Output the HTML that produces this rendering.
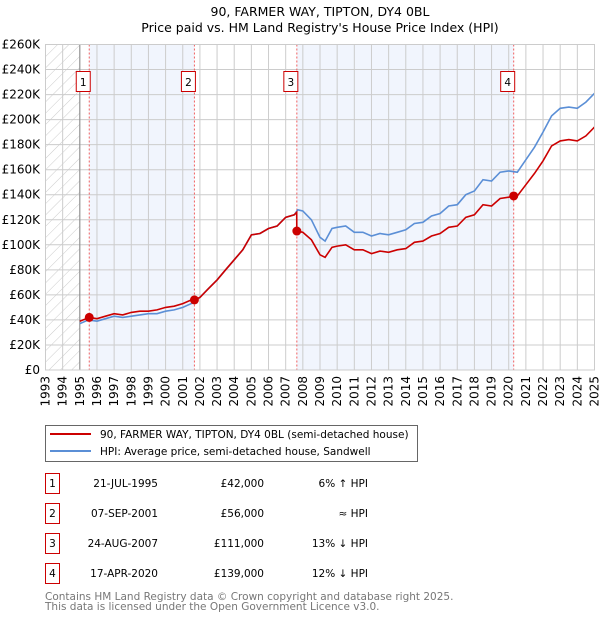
<!DOCTYPE html>
<html><head><meta charset="utf-8"><style>
body{margin:0;background:#fff}
svg{display:block;font-family:"DejaVu Sans","Liberation Sans",sans-serif}
</style></head><body>
<svg id="chart" width="600" height="620" viewBox="0 0 600 620">
<defs><pattern id="hatch" width="8" height="8" patternUnits="userSpaceOnUse" patternTransform="rotate(45)"><line x1="0" y1="0" x2="0" y2="8" stroke="#ccc" stroke-width="1"/></pattern></defs>
<text x="320" y="16" text-anchor="middle" font-size="12.5" fill="#000">90, FARMER WAY, TIPTON, DY4 0BL</text>
<text x="320" y="32" text-anchor="middle" font-size="12.5" fill="#000">Price paid vs. HM Land Registry's House Price Index (HPI)</text>
<g id="plot"></g>
<g>
<rect x="45.5" y="425.5" width="372" height="36" fill="#fff" stroke="#666"/>
<line x1="50" y1="434" x2="91" y2="434" stroke="#cc0000" stroke-width="2"/>
<text x="100" y="438" font-size="10.5">90, FARMER WAY, TIPTON, DY4 0BL (semi-detached house)</text>
<line x1="50" y1="451" x2="91" y2="451" stroke="#5b8fd6" stroke-width="2"/>
<text x="100" y="455" font-size="10.5">HPI: Average price, semi-detached house, Sandwell</text>
</g>
<g id="table" font-size="10.5"></g>
<text x="45" y="600" font-size="10.5" fill="#777">Contains HM Land Registry data © Crown copyright and database right 2025.</text>
<text x="45" y="610" font-size="10.5" fill="#777">This data is licensed under the Open Government Licence v3.0.</text>
</svg>
<script>
const hpiYears=[1995,1995.5,1996,1996.5,1997,1997.5,1998,1998.5,1999,1999.5,2000,2000.5,2001,2001.5,2002,2002.5,2003,2003.5,2004,2004.5,2005,2005.5,2006,2006.5,2007,2007.5,2007.7,2008,2008.5,2009,2009.3,2009.7,2010,2010.5,2011,2011.5,2012,2012.5,2013,2013.5,2014,2014.5,2015,2015.5,2016,2016.5,2017,2017.5,2018,2018.5,2019,2019.5,2020,2020.5,2021,2021.5,2022,2022.5,2023,2023.5,2024,2024.5,2025];
const hpiValues=[37,40,39,41,43,42,43,44,45,45,47,48,50,53,58,65,72,80,88,96,108,109,113,115,122,124,128,127,120,106,103,113,114,115,110,110,107,109,108,110,112,117,118,123,125,131,132,140,143,152,151,158,159,158,168,178,190,203,209,210,209,214,221];
const priceYears=[1995,1995.55,1996,1996.5,1997,1997.5,1998,1998.5,1999,1999.5,2000,2000.5,2001,2001.5,2001.68,2002,2002.5,2003,2003.5,2004,2004.5,2005,2005.5,2006,2006.5,2007,2007.5,2007.64,2007.65,2008,2008.5,2009,2009.3,2009.7,2010,2010.5,2011,2011.5,2012,2012.5,2013,2013.5,2014,2014.5,2015,2015.5,2016,2016.5,2017,2017.5,2018,2018.5,2019,2019.5,2020,2020.29,2020.5,2021,2021.5,2022,2022.5,2023,2023.5,2024,2024.5,2025];
const priceValues=[39,42,41,43,45,44,46,47,47,48,50,51,53,56,56,58,65,72,80,88,96,108,109,113,115,122,124,126,111,110,104,92,90,98,99,100,96,96,93,95,94,96,97,102,103,107,109,114,115,122,124,132,131,137,138,139,139,148,157,167,179,183,184,183,187,194];
const salesYears=[1995.55,2001.68,2007.65,2020.29];
const salesValues=[42,56,111,139];
const salesLabels=["1","2","3","4"];
const salesDates=["21-JUL-1995","07-SEP-2001","24-AUG-2007","17-APR-2020"];
const salesPrices=["£42,000","£56,000","£111,000","£139,000"];
const salesDeltas=["6% ↑ HPI","≈ HPI","13% ↓ HPI","12% ↓ HPI"];
const yTicks=[0,20,40,60,80,100,120,140,160,180,200,220,240,260];
const xTicks=[1993,1994,1995,1996,1997,1998,1999,2000,2001,2002,2003,2004,2005,2006,2007,2008,2009,2010,2011,2012,2013,2014,2015,2016,2017,2018,2019,2020,2021,2022,2023,2024,2025];

const NS="http://www.w3.org/2000/svg";
const L=45.5,R=594.5,T=44.5,B=370;
const xs=y=>L+(y-1993)*(R-L)/32;
const ys=v=>B-v*(B-T)/260;
const g=document.getElementById('plot');
function mk(tag,attrs,parent){const e=document.createElementNS(NS,tag);for(const k in attrs)e.setAttribute(k,attrs[k]);(parent||g).appendChild(e);return e;}
let e;
e=mk('rect',{x:L,y:T,width:R-L,height:B-T,fill:'#fff'});


e=mk('rect',{x:L,y:T,width:xs(1995)-L,height:B-T,fill:'url(#hatch)'});


[[0,1],[2,3]].forEach(p=>{
  e=mk('rect',{x:xs(salesYears[p[0]]),y:T,width:xs(salesYears[p[1]])-xs(salesYears[p[0]]),height:B-T,fill:'#eef3fc',opacity:0.8});
  
  
});
yTicks.forEach(v=>{
  e=mk('line',{x1:L,x2:R,y1:ys(v),y2:ys(v),stroke:'#ccc','stroke-width':1});
  
  
  e=mk('text',{x:40,y:ys(v)+4,'text-anchor':'end','font-size':'12'});
  e.textContent=v===0?'£0':'£'+v+'K';
  
  
});
xTicks.forEach(y=>{
  e=mk('line',{x1:xs(y),x2:xs(y),y1:T,y2:B,stroke:'#ccc','stroke-width':1});
  
  
  e=mk('text',{x:0,y:0,'text-anchor':'end','font-size':'12',transform:`translate(${xs(y)+4},${B+6}) rotate(-90)`});
  e.textContent=y;
  
  
});
e=mk('line',{x1:xs(1995),x2:xs(1995),y1:T,y2:B,stroke:'#888','stroke-width':1});


salesYears.forEach((y,i)=>{
  e=mk('line',{x1:xs(y),x2:xs(y),y1:T,y2:B,stroke:'#f06060','stroke-width':1,'stroke-dasharray':'2,2'});
  
  
});
const path=(xa,va)=>xa.map((y,i)=>(i?'L':'M')+xs(y).toFixed(1)+','+ys(va[i]).toFixed(1)).join('');
e=mk('path',{d:path(hpiYears,hpiValues),fill:'none',stroke:'#5b8fd6','stroke-width':1.6});


e=mk('path',{d:path(priceYears,priceValues),fill:'none',stroke:'#cc0000','stroke-width':1.6});


salesYears.forEach((y,i)=>{
  e=mk('circle',{cx:xs(y),cy:ys(salesValues[i]),r:4.5,fill:'#cc0000'});
  
  
  const bx=xs(y)-13;
  e=mk('rect',{x:bx,y:71.5,width:14,height:20,fill:'#fff',stroke:'#cc0000'});
  
  
  e=mk('text',{x:bx+7,y:86,'text-anchor':'middle','font-size':'10.5'});
  e.textContent=salesLabels[i];
  
  
});
e=mk('rect',{x:L,y:T,width:R-L,height:B-T,fill:'none',stroke:'#ccc'});


const tb=document.getElementById('table');
salesLabels.forEach((s,i)=>{
  const cy=483+i*30;
  e=mk('rect',{x:45.5,y:cy-9.5,width:14,height:20,fill:'#fff',stroke:'#cc0000'},tb);
  
  
  e=mk('text',{x:52.5,y:cy+4,'text-anchor':'middle'},tb);e.textContent=s;
  
  
  e=mk('text',{x:158,y:cy+4,'text-anchor':'end'},tb);e.textContent=salesDates[i];
  
  
  e=mk('text',{x:264,y:cy+4,'text-anchor':'end'},tb);e.textContent=salesPrices[i];
  
  
  e=mk('text',{x:368,y:cy+4,'text-anchor':'end'},tb);e.textContent=salesDeltas[i];
  
  
});
</script>
</body></html>
